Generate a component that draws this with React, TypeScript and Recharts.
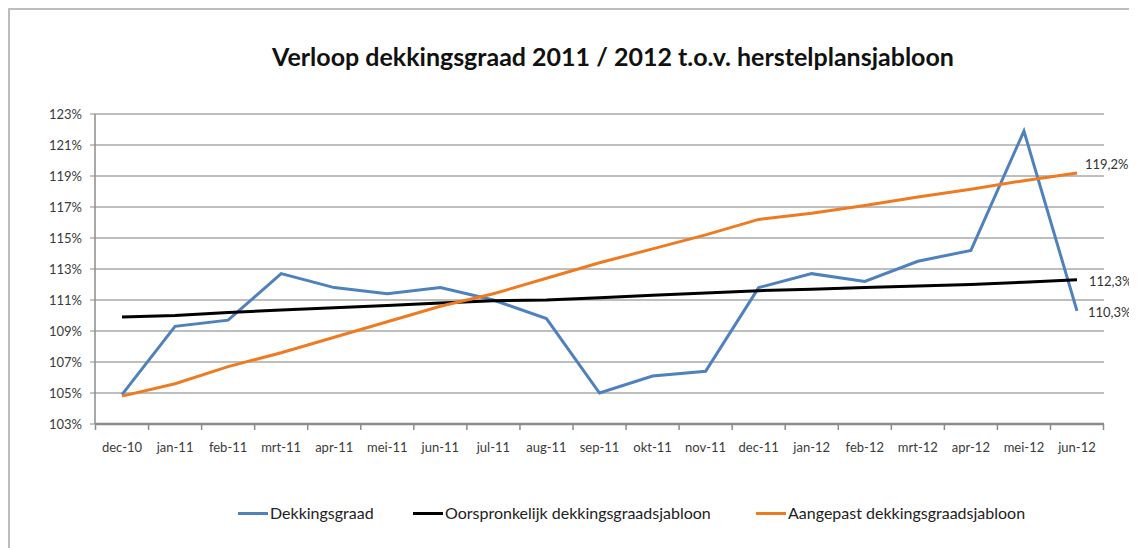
import React from "react";
import {
  LineChart,
  Line,
  XAxis,
  YAxis,
  CartesianGrid,
  Legend,
  LabelList,
} from "recharts";

const months = [
  "dec-10", "jan-11", "feb-11", "mrt-11", "apr-11", "mei-11", "jun-11",
  "jul-11", "aug-11", "sep-11", "okt-11", "nov-11", "dec-11", "jan-12",
  "feb-12", "mrt-12", "apr-12", "mei-12", "jun-12",
];

const dekkingsgraad = [
  104.9, 109.3, 109.7, 112.7, 111.8, 111.4, 111.8, 111.0, 109.8, 105.0,
  106.1, 106.4, 111.8, 112.7, 112.2, 113.5, 114.2, 121.9, 110.3,
];

const oorspronkelijk = [
  109.9, 110.0, 110.2, 110.35, 110.5, 110.65, 110.8, 110.95, 111.0, 111.15,
  111.3, 111.45, 111.6, 111.7, 111.8, 111.9, 112.0, 112.15, 112.3,
];

const aangepast = [
  104.8, 105.6, 106.7, 107.6, 108.6, 109.6, 110.6, 111.4, 112.4, 113.4,
  114.3, 115.2, 116.2, 116.6, 117.1, 117.65, 118.15, 118.7, 119.2,
];

const yTicks = [103, 105, 107, 109, 111, 113, 115, 117, 119, 121, 123];

const title = "Verloop dekkingsgraad 2011 / 2012 t.o.v. herstelplansjabloon";

const series = [
  { key: "dekkingsgraad", name: "Dekkingsgraad", color: "#4f81bd", dx: 11, dy: 2 },
  { key: "oorspronkelijk", name: "Oorspronkelijk dekkingsgraadsjabloon", color: "#000000", dx: 12, dy: 2 },
  { key: "aangepast", name: "Aangepast dekkingsgraadsjabloon", color: "#ee7b22", dx: 8, dy: -8 },
];

const FONT = "Lato, 'Liberation Sans', sans-serif";
const HALF_BAND = 26.5;

const data = months.map((m, i) => ({
  name: m,
  dekkingsgraad: dekkingsgraad[i],
  oorspronkelijk: oorspronkelijk[i],
  aangepast: aangepast[i],
}));

const fmt = (v: number) => v.toFixed(1).replace(".", ",") + "%";

const MonthTick = (props: any) => {
  const { x, y, payload, index } = props;
  return (
    <g>
      <line x1={x - HALF_BAND} y1={y} x2={x - HALF_BAND} y2={y + 6} stroke="#8c8c8c" strokeWidth={1.5} />
      {index === months.length - 1 && (
        <line x1={x + HALF_BAND} y1={y} x2={x + HALF_BAND} y2={y + 6} stroke="#8c8c8c" strokeWidth={1.5} />
      )}
      <text x={x} y={y + 19} dy="0.71em" textAnchor="middle" fill="#3a3a3a" fontSize={13} fontFamily={FONT}>
        {payload.value}
      </text>
    </g>
  );
};

const endLabel = (dx: number, dy: number) => (props: any) => {
  const { x, y, index, value } = props;
  if (index !== months.length - 1) return null;
  return (
    <text x={x + dx} y={y + dy} dy="0.35em" fill="#333" fontSize={13} fontFamily={FONT}>
      {fmt(value)}
    </text>
  );
};

const legendLeft = [230, 405, 748];

const LegendContent = () => (
  <div style={{ position: "relative", height: 18, fontFamily: FONT, fontSize: 16, color: "#222" }}>
    {series.map((s, i) => (
      <div
        key={s.key}
        style={{ position: "absolute", left: legendLeft[i], top: 0, display: "flex", alignItems: "center", whiteSpace: "nowrap", lineHeight: "18px" }}
      >
        <span style={{ display: "inline-block", width: 30, height: 3, background: s.color, marginRight: 2 }} />
        <span>{s.name}</span>
      </div>
    ))}
  </div>
);

export default function App() {
  return (
    <div
      style={{
        position: "relative",
        width: 1129,
        height: 540,
        boxSizing: "border-box",
        borderTop: "2px solid #bdbdbd",
        borderLeft: "2px solid #bdbdbd",
        background: "#fff",
      }}
    >
      <div
        style={{
          position: "absolute",
          left: 205 - 2,
          top: 33 - 2,
          width: 800,
          textAlign: "center",
          fontFamily: FONT,
          fontWeight: 700,
          fontSize: 25,
          lineHeight: "30px",
          color: "#111",
          zIndex: 1,
        }}
      >
        {title}
      </div>
      <div style={{ position: "absolute", left: -2, top: -2 }}>
        <LineChart
          width={1129}
          height={540}
          data={data}
          margin={{ top: 106, right: 33, left: 27, bottom: 94 }}
        >
          <CartesianGrid horizontal vertical={false} stroke="#a8a8a8" strokeWidth={1.5} />
          <XAxis
            dataKey="name"
            interval={0}
            padding={{ left: 27, right: 27 }}
            height={30}
            tickLine={false}
            tickSize={0}
            tickMargin={0}
            tick={<MonthTick />}
            axisLine={{ stroke: "#8c8c8c", strokeWidth: 2.5 }}
          />
          <YAxis
            width={60}
            domain={[103, 123]}
            ticks={yTicks}
            interval={0}
            allowDataOverflow
            tickFormatter={(v: number) => v + "%"}
            tickSize={5}
            tickMargin={8}
            tickLine={{ stroke: "#8c8c8c" }}
            axisLine={{ stroke: "#8c8c8c", strokeWidth: 1.5 }}
            tick={{ fill: "#3a3a3a", fontSize: 13, fontFamily: FONT }}
          />
          <Legend
            layout="horizontal"
            verticalAlign="middle"
            align="center"
            content={<LegendContent />}
            wrapperStyle={{ top: 496, left: 0, width: 1129, height: 18 }}
          />
          {series.map((s) => (
            <Line
              key={s.key}
              type="linear"
              dataKey={s.key}
              name={s.name}
              stroke={s.color}
              strokeWidth={3}
              dot={false}
              activeDot={false}
              isAnimationActive={false}
            >
              <LabelList dataKey={s.key} content={endLabel(s.dx, s.dy)} />
            </Line>
          ))}
        </LineChart>
      </div>
    </div>
  );
}
